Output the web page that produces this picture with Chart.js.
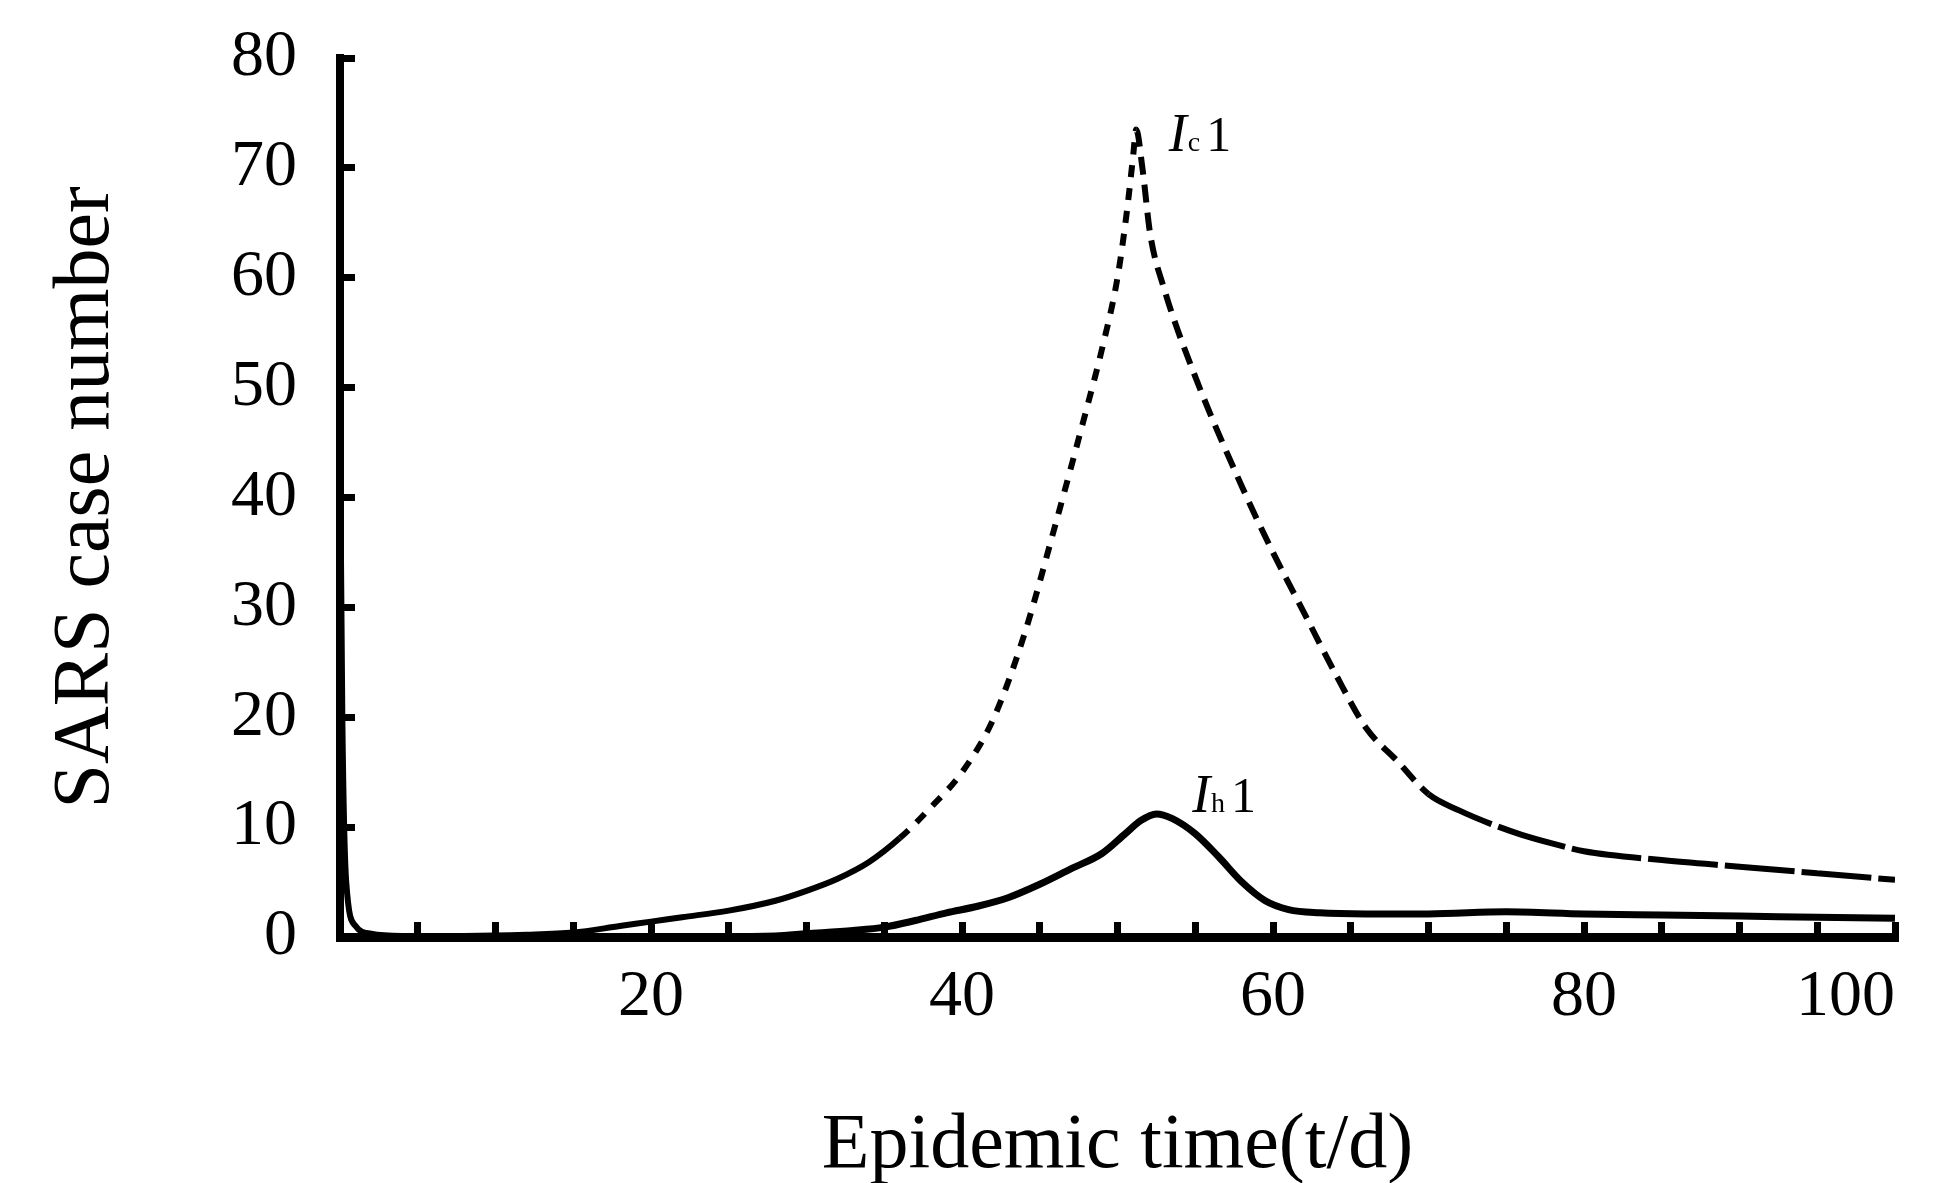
<!DOCTYPE html>
<html>
<head>
<meta charset="utf-8">
<script src="https://cdn.jsdelivr.net/npm/chart.js@4.4.1/dist/chart.umd.min.js"></script>
<style>
  html, body { margin: 0; padding: 0; background: #fff; }
  #wrap { width: 1939px; height: 1183px; position: relative; }
</style>
</head>
<body>
<div id="wrap"><canvas id="chart"></canvas></div>
<script>
'use strict';

// ── Data ─────────────────────────────────────────────────────────────────────

// I_c1 : upper curve (solid start, dashed through the peak)
const icT = [0, 0.15, 0.4, 1, 2, 4, 8, 12, 15, 18, 20, 22, 25, 28, 30, 32, 34, 36,
             38, 40, 42, 44, 46, 48, 49, 50, 50.6, 51, 51.2, 51.6, 52.1, 53, 55, 58,
             60, 62, 64, 66, 68, 70, 72, 74, 76, 78, 80, 85, 90, 95, 100];
const icV = [46, 20, 5, 1.0, 0.3, 0.1, 0.1, 0.2, 0.4, 1.0, 1.4, 1.8, 2.4, 3.3, 4.2, 5.3, 6.8, 9.0,
             11.8, 15, 19.8, 27.5, 37.5, 48, 53.5, 60, 66, 71, 73.5, 70, 64, 59, 51, 41,
             35, 29.5, 24, 19, 16, 13, 11.5, 10.3, 9.3, 8.5, 7.8, 7.0, 6.4, 5.8, 5.2];

// I_h1 : lower solid curve
const ihT = [0, 10, 20, 28, 30, 33, 35, 37, 39, 41, 43, 45, 47, 49, 50.5, 51.5, 52.5,
             53.5, 55, 56.5, 58, 59.5, 61, 63, 66, 70, 75, 80, 85, 90, 95, 100];
const ihV = [0, 0, 0, 0.1, 0.3, 0.6, 0.9, 1.5, 2.2, 2.8, 3.6, 4.8, 6.2, 7.6, 9.4, 10.6, 11.2,
             10.8, 9.4, 7.3, 5.0, 3.3, 2.5, 2.2, 2.1, 2.1, 2.3, 2.1, 2.0, 1.9, 1.8, 1.7];

const xTicksShown = [20, 40, 60, 80, 100];

// curve labels: [main, sub, tail, t, value]
const curveLabels = [
  ['I', 'c', '1', 53.3, 71.5],
  ['I', 'h', '1', 54.8, 11.4],
];

// ── Helpers ──────────────────────────────────────────────────────────────────

const SERIF = '"Liberation Serif", "DejaVu Serif", serif';
const pts = (ts, vs) => ts.map((t, i) => ({ x: t, y: vs[i] }));

function icDash(ctx) {
  const a = ctx.p0.parsed.x;
  if (a >= 36 && a < 51.2) return [12, 11];
  if (a >= 51.2 && a < 70) return [18, 10];
  if (a >= 70) return [70, 7];
  return undefined;
}

const curveLabelPlugin = {
  id: 'curveLabels',
  afterDatasetsDraw(chart) {
    const { ctx, scales: { x, y } } = chart;
    ctx.save();
    ctx.fillStyle = '#000';
    ctx.textBaseline = 'alphabetic';
    ctx.textAlign = 'left';
    for (const [main, sub, tail, t, v] of curveLabels) {
      let px = x.getPixelForValue(t);
      const py = y.getPixelForValue(v);
      ctx.font = `italic 54px ${SERIF}`;
      ctx.fillText(main, px, py);
      px += ctx.measureText(main).width + 1;
      ctx.font = `28px ${SERIF}`;
      ctx.fillText(sub, px, py);
      px += ctx.measureText(sub).width + 6;
      ctx.font = `50px ${SERIF}`;
      ctx.fillText(tail, px, py);
    }
    ctx.restore();
  },
};

// ── Chart ────────────────────────────────────────────────────────────────────

new Chart(document.getElementById('chart'), {
  type: 'line',
  data: {
    datasets: [
      {
        label: 'Ic1',
        data: pts(icT, icV),
        borderColor: '#000',
        borderWidth: 6,
        pointRadius: 0,
        cubicInterpolationMode: 'monotone',
        segment: { borderDash: icDash },
      },
      {
        label: 'Ih1',
        data: pts(ihT, ihV),
        borderColor: '#000',
        borderWidth: 7,
        pointRadius: 0,
        cubicInterpolationMode: 'monotone',
      },
    ],
  },
  options: {
    responsive: true,
    maintainAspectRatio: false,
    animation: false,
    layout: { padding: { top: 58, right: 44, left: 0, bottom: 0 } },
    plugins: { legend: { display: false }, tooltip: { enabled: false } },
    scales: {
      x: {
        type: 'linear',
        min: 0,
        max: 100,
        afterFit: s => { s.height = 246; s.paddingLeft = 0; s.paddingRight = 0; },
        border: { display: true, color: '#000', width: 9 },
        grid: { drawOnChartArea: false, drawTicks: true, tickLength: -15, color: '#000', lineWidth: 7 },
        ticks: {
          stepSize: 5,
          autoSkip: false,
          maxRotation: 0,
          align: 'inner',
          padding: 43,
          color: '#000',
          font: { family: SERIF, size: 66, lineHeight: 1 },
          callback: v => (xTicksShown.includes(v) ? String(v) : ''),
        },
        title: {
          display: true,
          text: 'Epidemic time(t/d)',
          color: '#000',
          font: { family: SERIF, size: 78, lineHeight: 0.9 },
          padding: { top: 0, bottom: 1 },
        },
      },
      y: {
        min: 0,
        max: 80,
        afterFit: s => { s.width = 340; s.paddingTop = 30; s.paddingBottom = 30; },
        border: { display: true, color: '#000', width: 8 },
        grid: { drawOnChartArea: false, drawTicks: true, tickLength: -15, color: '#000', lineWidth: 7 },
        ticks: {
          stepSize: 10,
          padding: 58,
          color: '#000',
          font: { family: SERIF, size: 66, lineHeight: 1 },
        },
        title: {
          display: true,
          text: 'SARS case number',
          color: '#000',
          font: { family: SERIF, size: 80, lineHeight: 1 },
          padding: { top: 47, bottom: 0 },
        },
      },
    },
  },
  plugins: [curveLabelPlugin],
});
</script>
</body>
</html>
